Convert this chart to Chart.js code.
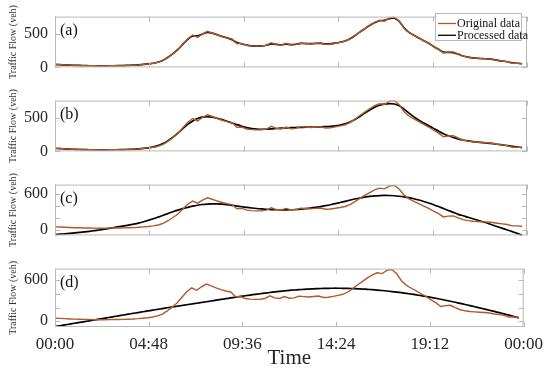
<!DOCTYPE html>
<html><head><meta charset="utf-8">
<script src="https://cdn.jsdelivr.net/npm/chart.js@4/dist/chart.umd.min.js"></script>
<style>
html,body{margin:0;padding:0;background:#fff;}
#wrap{position:relative;width:550px;height:379px;overflow:hidden;background:#fff;}
canvas{position:absolute;left:0;}
</style></head><body>
<div id="wrap">
<canvas id="pa" width="550" height="84" style="top:0px"></canvas>
<canvas id="pb" width="550" height="84" style="top:84px"></canvas>
<canvas id="pc" width="550" height="84" style="top:168px"></canvas>
<canvas id="pd" width="550" height="127" style="top:252px"></canvas>
</div>
<script>
// time of day in minutes (15-min samples)
const minutes = [0,15,30,45,60,75,90,105,120,135,150,165,180,195,210,225,240,255,270,285,300,315,330,345,360,375,390,405,420,435,450,465,480,495,510,525,540,555,570,585,600,615,630,645,660,675,690,705,720,735,750,765,780,795,810,825,840,855,870,885,900,915,930,945,960,975,990,1005,1020,1035,1050,1065,1080,1095,1110,1125,1140,1155,1170,1185,1200,1215,1230,1245,1260,1275,1290,1305,1320,1335,1350,1365,1380,1395,1410,1425];

const originalData = [
45,42,38,34,31,29,27,25,24,23,
23,24,25,26,28,30,33,38,45,52,
62,78,105,150,205,265,350,430,485,450,
500,540,515,485,460,440,425,355,360,330,
322,318,320,330,370,340,332,360,335,340,
365,358,352,360,366,345,350,362,376,392,
425,475,530,580,630,675,705,692,740,752,
690,585,522,480,440,400,360,312,270,215,
228,232,198,168,152,142,136,131,127,120,
106,96,85,62,63,55];

const processedA = [
44,41,37,34,31,29,27,25,24,23,
23,24,25,26,28,30,33,38,44,52,
62,80,108,152,205,268,345,420,470,472,
500,525,512,488,462,442,415,372,352,334,
322,319,321,332,352,345,338,348,340,346,
358,357,355,358,360,351,353,362,376,395,
428,475,528,578,626,668,698,705,728,738,
688,592,525,480,440,400,360,314,270,228,
224,220,198,170,153,142,136,131,127,120,
106,95,84,68,62,55];

const processedB = [
45,41,37,33,30,28,26,24,23,22,
22,23,24,25,27,29,32,37,44,53,
66,85,115,158,210,270,335,398,450,485,
505,512,505,490,470,445,420,395,372,352,
338,330,327,328,332,338,343,347,350,353,
355,357,358,360,362,365,370,378,390,408,
435,470,515,565,612,652,682,698,705,700,
675,625,565,510,462,420,380,340,300,262,
230,205,185,168,155,145,137,130,123,115,
106,96,86,76,66,56];

const processedC = [
-85,-79,-73,-66,-58,-50,-41,-31,-20,-8,
5,19,34,48,62,76,92,110,132,157,
183,212,242,273,303,330,355,378,398,414,
426,434,438,437,432,423,412,400,388,377,
367,358,351,345,340,337,335,335,337,341,
347,355,365,377,391,406,422,440,460,480,
500,520,537,551,563,572,577,580,579,575,
567,556,542,524,503,478,451,422,391,358,
325,292,258,234,208,183,158,132,106,76,
48,20,-8,-36,-65,-95];

const processedD = [
-77,-65,-53,-41,-29,-17,-5,7,19,31,
43,55,67,79,91,103,115,126,138,150,
161,173,184,196,207,218,229,240,251,262,
273,284,295,306,317,328,339,350,361,371,
381,391,400,409,418,426,434,441,448,454,
459,464,468,472,475,477,479,480,480,479,
477,475,472,468,464,459,453,447,440,432,
424,415,405,395,384,372,360,347,334,320,
306,291,276,260,244,228,211,194,177,160,
143,125,107,89,70,50];

const xTickValues = [0,288,576,864,1152,1440];
const xTickLabels = ['00:00','04:48','09:36','14:24','19:12','00:00'];
const yTicksAB = [0,500];
const yLabelsAB = [0,500];
const yTicksCD = [0,200,400,600];
const yLabelsCD = [0,600];
const panelLabels = ['(a)','(b)','(c)','(d)'];
const seriesNames = ['Original data','Processed data'];

const SERIF = "'Liberation Serif','Times New Roman',serif";
const ORIG = '#b05a2a';
const PROC = '#000000';
const FRAME = '#b8b8b8';

const framePlugin = {
  id: 'frame',
  afterDatasetsDraw(chart, args, o) {
    const ctx = chart.ctx, a = chart.chartArea, x = chart.scales.x, y = chart.scales.y;
    ctx.save();
    ctx.strokeStyle = FRAME; ctx.lineWidth = 1;
    ctx.strokeRect(a.left + 0.5, a.top + 0.5, a.right - a.left - 1, a.bottom - a.top - 1);
    ctx.beginPath();
    const TL = 5;
    xTickValues.forEach(v => {
      const px = Math.round(x.getPixelForValue(v)) + 0.5;
      ctx.moveTo(px, a.top); ctx.lineTo(px, a.top + TL);
      ctx.moveTo(px, a.bottom); ctx.lineTo(px, a.bottom - TL);
    });
    o.yTicks.forEach(v => {
      const py = Math.round(y.getPixelForValue(v)) + 0.5;
      ctx.moveTo(a.left, py); ctx.lineTo(a.left + TL, py);
      ctx.moveTo(a.right, py); ctx.lineTo(a.right - TL, py);
    });
    ctx.stroke();
    ctx.fillStyle = '#111';
    ctx.font = '16px ' + SERIF;
    ctx.textBaseline = 'middle'; ctx.textAlign = 'left';
    ctx.fillText(o.label, a.left + 5, a.top + 14);
    if (o.legend) {
      const lx = 435, ly = 13.5, lw = 86, lh = 27;
      ctx.fillStyle = '#fff';
      ctx.fillRect(lx, ly, lw, lh);
      ctx.strokeStyle = FRAME;
      ctx.strokeRect(lx + 0.5, ly, lw, lh);
      const ds = chart.data.datasets;
      const items = [ds[1], ds[0]];
      ctx.font = '12px ' + SERIF;
      items.forEach((d, i) => {
        const yy = ly + 10 + i * 11.8;
        ctx.strokeStyle = d.borderColor; ctx.lineWidth = 1.3;
        ctx.beginPath(); ctx.moveTo(lx + 3, yy); ctx.lineTo(lx + 21, yy); ctx.stroke();
        ctx.fillStyle = '#111';
        ctx.fillText(d.label, lx + 22, yy + 0.5);
      });
    }
    ctx.restore();
  }
};

function makePanel(id, idx, proc, yMin, yMax, yTicks, yLabels, bottom, legend) {
  const pts = arr => arr.map((v, i) => ({x: minutes[i], y: v}));
  const xScale = {
    type: 'linear', min: 0, max: 1440, display: bottom,
    afterBuildTicks: s => { s.ticks = xTickValues.map(v => ({value: v})); },
    grid: {display: false, drawTicks: false},
    border: {display: false},
    ticks: {font: {family: SERIF, size: 17}, color: '#262626', padding: 7, maxRotation: 0, autoSkip: false,
            callback: (v, i) => xTickLabels[i]},
    title: {display: bottom, text: 'Time', font: {family: SERIF, size: 21}, color: '#262626', padding: {top: 0, bottom: 8}}
  };
  if (bottom) xScale.afterFit = s => { s.height = 52; };
  new Chart(document.getElementById(id), {
    type: 'line',
    data: {
      datasets: [
        {label: seriesNames[1], data: pts(proc), borderColor: PROC, borderWidth: 1.7, pointRadius: 0, tension: 0.3, fill: false, order: 1},
        {label: seriesNames[0], data: pts(originalData), borderColor: ORIG, borderWidth: 1.4, pointRadius: 0, tension: 0, fill: false, order: 0}
      ]
    },
    options: {
      responsive: false, animation: false, devicePixelRatio: 1,
      layout: {padding: {top: 13, bottom: bottom ? 0 : 10, left: 0, right: 23}},
      plugins: {
        legend: {display: false}, tooltip: {enabled: false},
        frame: {label: panelLabels[idx], yTicks: yTicks, legend: legend}
      },
      scales: {
        x: xScale,
        y: {
          type: 'linear', min: yMin, max: yMax,
          afterBuildTicks: s => { s.ticks = yTicks.map(v => ({value: v})); },
          afterFit: s => { s.width = 55; },
          grid: {display: false, drawTicks: false},
          border: {display: false},
          ticks: {font: {family: SERIF, size: 16}, color: '#262626', padding: 7, autoSkip: false,
                  callback: v => yLabels.includes(v) ? String(v) : ''},
          title: {display: true, text: 'Traffic Flow (veh)', font: {family: SERIF, size: 10}, color: '#333', padding: {top: 7, bottom: 0}}
        }
      }
    },
    plugins: [framePlugin]
  });
}

makePanel('pa', 0, processedA, 0, 760, yTicksAB, yLabelsAB, false, true);
makePanel('pb', 1, processedB, 0, 750, yTicksAB, yLabelsAB, false, false);
makePanel('pc', 2, processedC, -100, 765, yTicksCD, yLabelsCD, false, false);
makePanel('pd', 3, processedD, -83, 765, yTicksCD, yLabelsCD, true, false);
</script>
</body></html>
